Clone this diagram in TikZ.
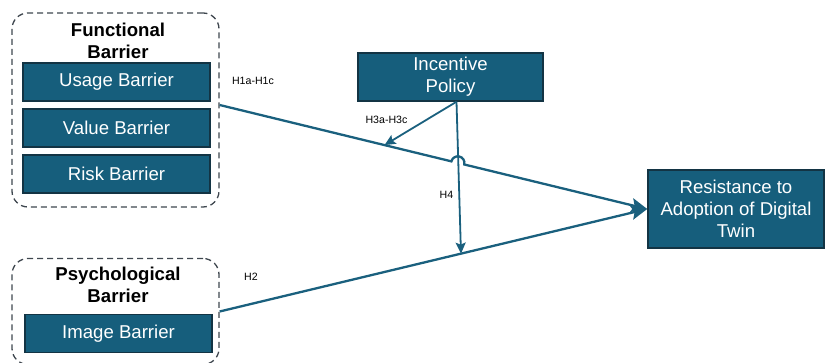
\documentclass[tikz,border=0pt]{standalone}
\usepackage{fontspec}
\setsansfont{Liberation Sans}
\usetikzlibrary{arrows.meta}
\usetikzlibrary{positioning}

\definecolor{boxfill}{RGB}{22,94,124}
\definecolor{boxline}{RGB}{19,52,68}
\definecolor{linkcol}{RGB}{26,96,126}
\definecolor{groupline}{RGB}{62,70,78}

\begin{document}
\begin{tikzpicture}[font=\sffamily,
x=1pt, y=1pt,
>={Stealth[length=16pt,width=14pt,inset=3pt]},
barrier/.style={draw=boxline, line width=1.5pt, fill=boxfill, text=white,
  minimum width=187pt, minimum height=38pt, font=\sffamily\fontsize{18.6}{22}\selectfont},
group/.style={draw=groupline, dash pattern=on 6pt off 4pt, line width=1.3pt,
  rounded corners=16pt, minimum width=207pt},
grouptitle/.style={align=center, font=\sffamily\bfseries\fontsize{18.6}{22}\selectfont},
hyp/.style={font=\sffamily\fontsize{10.6}{12}\selectfont}]
\useasboundingbox (0,0) rectangle (825,363);
\tikzstyle{link} = [draw=linkcol, line width=2.3pt]
\tikzstyle{ar} = [link, ->]
\tikzstyle{sar} = [draw=linkcol, line width=1.8pt, -{Stealth[length=11pt,width=10pt,inset=2pt]}]

% Functional barrier group
\node[group, minimum height=194pt](func) at (115.5,253){};
\node[grouptitle](funcT) at (118,322){Functional\\Barrier};
\node[barrier](usage) at (116.5,281){Usage Barrier};
\node[barrier, below=6.5pt of usage](value){Value Barrier};
\node[barrier, below=6.5pt of value](risk){Risk Barrier};

% Psychological barrier group
\node[group, minimum height=106pt](psych) at (115.5,51.5){};
\node[grouptitle](psychT) at (118,78){Psychological\\Barrier};
\node[barrier](image) at (118.5,29.5){Image Barrier};

\node[barrier, minimum width=185pt, minimum height=48pt, align=center](incent) at (450.5,286){Incentive\\Policy};
\node[barrier, minimum width=176pt, minimum height=78pt, align=center](resist) at (736,154){Resistance to\\Adoption of Digital\\Twin};

% main paths
\path ([yshift=5pt]func.east) coordinate(f1) -- (resist.west)
  coordinate[pos=0.3855](h3tip) coordinate[pos=0.542](hopA) coordinate[pos=0.572](hopB);
\draw[ar] (f1) -- (hopA) arc[start angle=166.34, end angle=-13.66, radius=6.6] -- (resist.west);
\draw[ar] (psych.east) -- (resist.west) coordinate[pos=0.5644](h4tip);

% moderation
\coordinate(i1) at ([xshift=6pt]incent.south);
\draw[sar] (i1) -- (h3tip);
\draw[sar] (i1) -- (h4tip);

\node[hyp](h1) at (253,282){H1a-H1c};
\node[hyp](h3) at (386.5,243){H3a-H3c};
\node[hyp](h4) at (446.5,168){H4};
\node[hyp](h2) at (251,86){H2};

\end{tikzpicture}
\end{document}
